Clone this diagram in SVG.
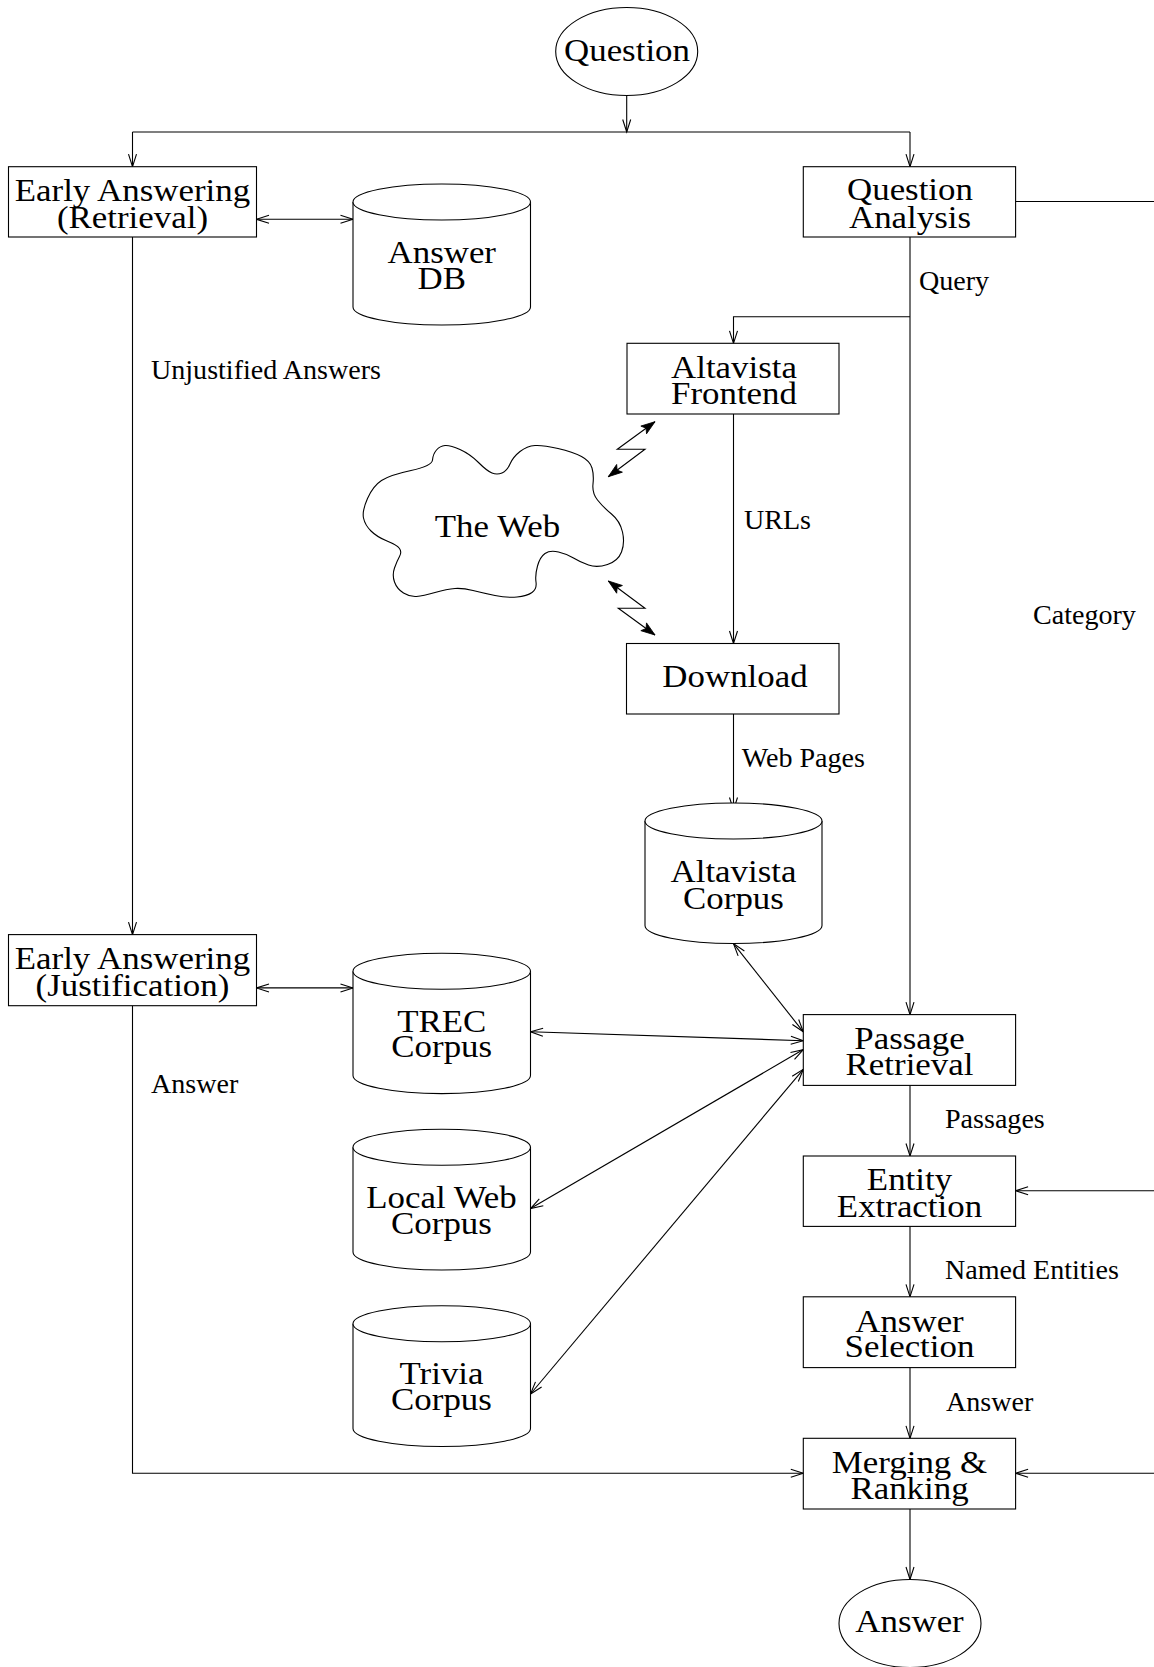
<svg xmlns="http://www.w3.org/2000/svg" width="1154" height="1667" viewBox="0 0 1154 1667">
<defs>
<style>
.shape{fill:#fff;stroke:#000;stroke-width:1.1}
.t{font-family:"Liberation Serif","Times New Roman",serif;font-size:32px;text-anchor:middle;fill:#000;transform-box:fill-box;transform-origin:center;transform:scaleX(1.09)}
.lbl{font-family:"Liberation Serif","Times New Roman",serif;font-size:27px;fill:#000;transform-box:fill-box;transform-origin:left center;transform:scaleX(1.04)}
.c{fill:none;stroke:#000;stroke-width:1.1}
.ar{marker-end:url(#arr)}
.dar{marker-start:url(#arr);marker-end:url(#arr)}
.bolt{fill:none;stroke:#000;stroke-width:1.1;marker-start:url(#farr);marker-end:url(#farr)}
</style>
<marker id="arr" markerUnits="userSpaceOnUse" viewBox="-14 -6 16 12" refX="0" refY="0" markerWidth="16" markerHeight="12" orient="auto-start-reverse">
<path d="M-12.5,-4 L0,0 L-12.5,4" fill="none" stroke="#000" stroke-width="1.1"/>
</marker>
<marker id="farr" markerUnits="userSpaceOnUse" viewBox="-16 -7 18 14" refX="0" refY="0" markerWidth="18" markerHeight="14" orient="auto-start-reverse">
<path d="M0,0 L-14,-4.8 L-11,0 L-14,4.8 Z" fill="#000" stroke="#000" stroke-width="0.8"/>
</marker>
</defs>
<rect width="1154" height="1667" fill="#fff"/>

<g id="connectors">
<path class="c ar" d="M626.7,95.5 V132"/>
<path class="c" d="M132.5,132 H910"/>
<path class="c ar" d="M132.5,132 V166.7"/>
<path class="c ar" d="M910,132 V166.7"/>
<path class="c dar" d="M256.5,219.3 H353"/>
<path class="c ar" d="M132.5,237 V934.6"/>
<path class="c ar" d="M910,237 V1014.6"/>
<path class="c ar" d="M910,316.7 H733.5 V343.3"/>
<path class="c" d="M1015.6,201.5 H1170 V1473.3"/>
<path class="c ar" d="M733.5,414 V643.5"/>
<path class="c ar" d="M733.5,714 V810"/>
<path class="c dar" d="M733.5,943.6 L803.3,1031.8"/>
<path class="c dar" d="M530.5,1031.8 L803.3,1040.7"/>
<path class="c dar" d="M530.5,1208.6 L803.3,1049.6"/>
<path class="c dar" d="M530.5,1394 L803.3,1069.3"/>
<path class="c dar" d="M256.5,987.9 H353"/>
<path class="c ar" d="M132.5,1005.7 V1473.3 H803.3"/>
<path class="c ar" d="M910,1085.4 V1156"/>
<path class="c ar" d="M1170,1190.7 H1015.6"/>
<path class="c ar" d="M910,1226.4 V1296.8"/>
<path class="c ar" d="M910,1367.6 V1438.3"/>
<path class="c ar" d="M1170,1473.3 H1015.6"/>
<path class="c ar" d="M910,1509 V1579.5"/>
<path class="bolt" d="M655,421.7 L617.3,449.3 L645,449.3 L608.3,476.7"/>
<path class="bolt" d="M608.3,581 L645,608.3 L618.3,608.3 L655,635"/>
<text class="lbl" x="151" y="379">Unjustified Answers</text>
<text class="lbl" x="919" y="290">Query</text>
<text class="lbl" x="744" y="529">URLs</text>
<text class="lbl" x="741.7" y="767.5">Web Pages</text>
<text class="lbl" x="1033" y="624">Category</text>
<text class="lbl" x="151" y="1093.5">Answer</text>
<text class="lbl" x="945" y="1128">Passages</text>
<text class="lbl" x="945" y="1279">Named Entities</text>
<text class="lbl" x="946" y="1411.5">Answer</text>
</g>

<g id="question">
<ellipse class="shape" cx="626.7" cy="51.5" rx="71" ry="44"/>
<text class="t" x="627" y="61">Question</text>
</g>

<g id="early-retrieval">
<rect class="shape" x="8.5" y="166.7" width="248" height="70.3"/>
<text class="t"><tspan x="132.5" y="201">Early Answering</tspan><tspan x="132.5" y="228">(Retrieval)</tspan></text>
</g>

<g id="answer-db">
<path class="shape" d="M353,202 V307 A88.75,18 0 0 0 530.5,307 V202"/>
<ellipse class="shape" cx="441.75" cy="202" rx="88.75" ry="18"/>
<text class="t"><tspan x="441.75" y="263">Answer</tspan><tspan x="441.75" y="289">DB</tspan></text>
</g>

<g id="question-analysis">
<rect class="shape" x="803.3" y="166.7" width="212.3" height="70.3"/>
<text class="t"><tspan x="910" y="200">Question</tspan><tspan x="910" y="228">Analysis</tspan></text>
</g>

<g id="altavista-frontend">
<rect class="shape" x="627" y="343.3" width="212" height="70.7"/>
<text class="t"><tspan x="734" y="377.7">Altavista</tspan><tspan x="734" y="404">Frontend</tspan></text>
</g>

<g id="the-web">
<path class="shape" d="M363.5,518 Q362,511 367.5,498.5 Q373,486 381.5,480.5 Q390,475 411,470.5 Q432,466 432.5,460 Q433,454 436.5,450 Q440,446 445,445.5 Q450,445 460,449.5 Q470,454 478.5,462.5 Q487,471 492,473 Q497,475 502,473 Q507,471 510,464 Q513,457 520,451.5 Q527,446 535,445.5 Q543,445 558,448.5 Q573,452 581.5,456.5 Q590,461 592,468 Q594,475 593,484 Q592,493 597.5,500 Q603,507 611.5,514 Q620,521 622.5,532 Q625,543 621.5,552 Q618,561 607.5,564.5 Q597,568 588.5,565 Q580,562 573.5,558 Q567,554 558.5,552 Q550,550 545,553.5 Q540,557 537.5,566 Q535,575 536,582 Q537,589 532,592.5 Q527,596 517,597 Q507,598 495,595.5 Q483,593 473,590.5 Q463,588 455,588.5 Q447,589 435,592.5 Q423,596 416.5,596.5 Q410,597 403.5,593 Q397,589 394.5,582 Q392,575 394.5,568 Q397,561 399.5,556.5 Q402,552 399.5,548.5 Q397,545 387,541 Q377,537 371,531 Q365,525 363.5,518 Z"/>
<text class="t" x="497.5" y="537.5">The Web</text>
</g>

<g id="download">
<rect class="shape" x="626.5" y="643.5" width="212.5" height="70.5"/>
<text class="t" x="735" y="687.5">Download</text>
</g>

<g id="altavista-corpus">
<path class="shape" d="M645,821 V925.5 A88.5,18 0 0 0 822,925.5 V821"/>
<ellipse class="shape" cx="733.5" cy="821" rx="88.5" ry="18"/>
<text class="t"><tspan x="733.5" y="882">Altavista</tspan><tspan x="733.5" y="908.6">Corpus</tspan></text>
</g>

<g id="early-justification">
<rect class="shape" x="8.5" y="934.6" width="248" height="71.1"/>
<text class="t"><tspan x="132.5" y="969.3">Early Answering</tspan><tspan x="132.5" y="996">(Justification)</tspan></text>
</g>

<g id="trec-corpus">
<path class="shape" d="M353,971.2 V1075.6 A88.75,18 0 0 0 530.5,1075.6 V971.2"/>
<ellipse class="shape" cx="441.75" cy="971.2" rx="88.75" ry="18"/>
<text class="t"><tspan x="441.75" y="1031.8">TREC</tspan><tspan x="441.75" y="1057.5">Corpus</tspan></text>
</g>

<g id="local-web-corpus">
<path class="shape" d="M353,1147.3 V1252 A88.75,18 0 0 0 530.5,1252 V1147.3"/>
<ellipse class="shape" cx="441.75" cy="1147.3" rx="88.75" ry="18"/>
<text class="t"><tspan x="441.5" y="1207.9">Local Web</tspan><tspan x="441.5" y="1233.6">Corpus</tspan></text>
</g>

<g id="trivia-corpus">
<path class="shape" d="M353,1323.7 V1428.5 A88.75,18 0 0 0 530.5,1428.5 V1323.7"/>
<ellipse class="shape" cx="441.75" cy="1323.7" rx="88.75" ry="18"/>
<text class="t"><tspan x="441.5" y="1384.3">Trivia</tspan><tspan x="441.5" y="1410.4">Corpus</tspan></text>
</g>

<g id="passage-retrieval">
<rect class="shape" x="803.3" y="1014.6" width="212.3" height="70.8"/>
<text class="t"><tspan x="909.5" y="1048.6">Passage</tspan><tspan x="909.5" y="1074.6">Retrieval</tspan></text>
</g>

<g id="entity-extraction">
<rect class="shape" x="803.3" y="1156" width="212.3" height="70.4"/>
<text class="t"><tspan x="909.5" y="1190">Entity</tspan><tspan x="909.5" y="1217.5">Extraction</tspan></text>
</g>

<g id="answer-selection">
<rect class="shape" x="803.3" y="1296.8" width="212.3" height="70.8"/>
<text class="t"><tspan x="909.5" y="1331.8">Answer</tspan><tspan x="909.5" y="1357.5">Selection</tspan></text>
</g>

<g id="merging-ranking">
<rect class="shape" x="803.3" y="1438.3" width="212.3" height="70.7"/>
<text class="t"><tspan x="909.5" y="1472.7">Merging &amp;</tspan><tspan x="909.5" y="1499.3">Ranking</tspan></text>
</g>

<g id="answer">
<ellipse class="shape" cx="910" cy="1623.5" rx="71" ry="44"/>
<text class="t" x="909.5" y="1631.7">Answer</text>
</g>
</svg>
